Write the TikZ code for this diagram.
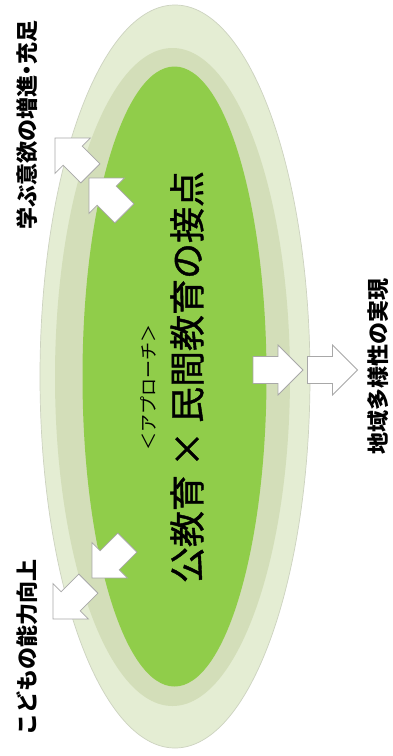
\documentclass[tikz,border=0pt]{standalone}
\usepackage{fontspec}
\newfontfamily\jp{Noto Sans CJK JP}
\newfontfamily\jpmed{Noto Sans CJK JP}[FakeBold=1.2]
\definecolor{outerc}{HTML}{E4EDD3}
\definecolor{ringc}{HTML}{D3DEB9}
\definecolor{innerc}{HTML}{90CD4A}
\definecolor{edgec}{HTML}{CDD3C0}
\definecolor{arrowedge}{HTML}{A8A8A8}
\tikzset{
  arrowstyle/.style={fill=white, draw=arrowedge, line width=0.8pt, line join=miter},
  blockarrow/.pic={\draw[arrowstyle] (-25,-13.5) -- (0,-13.5) -- (0,-25) -- (25,0) -- (0,25) -- (0,13.5) -- (-25,13.5) -- cycle;},
  label/.style={font=\jp\bfseries\fontsize{22}{24}\selectfont, rotate=90, inner sep=0pt, text=black},
  maintext/.style={font=\jpmed\fontsize{36}{40}\selectfont, rotate=90, inner sep=0pt, text=black},
  subtext/.style={font=\jp\fontsize{18}{20}\selectfont, rotate=90, inner sep=0pt, text=black}
}
\begin{document}
\begin{tikzpicture}[x=1pt,y=-1pt]
\useasboundingbox (0,0) rectangle (392,756);
\fill[white] (0,0) rectangle (392,756);
% ellipses
\filldraw[fill=outerc, draw=edgec, line width=0.7pt] (175,376.5) ellipse [x radius=135, y radius=371.5];
\fill[ringc] (172.5,377) ellipse [x radius=117.5, y radius=329];
\fill[innerc] (174.5,376.5) ellipse [x radius=92, y radius=310];
% texts
\node[maintext] (main) at (187,377) {公教育 × 民間教育の接点};
\node[subtext] (sub) at (148,387) {＜アプローチ＞};
\node[label] (l1) at (27,125) {学ぶ意欲の増進\kern-0.25em・\kern-0.25em充足};
\node[label] (l2) at (27,647) {こどもの能力向上};
\node[label] (l3) at (378,366) {地域多様性の実現};
% arrows
\pic[rotate=135] at (72.7,155.7) {blockarrow};
\pic[rotate=135] at (106.7,195.7) {blockarrow};
\pic[rotate=225] at (70.7,601.3) {blockarrow};
\pic[rotate=225] at (109.7,560.3) {blockarrow};
\pic at (278,370) {blockarrow};
\pic at (332.5,370) {blockarrow};
\end{tikzpicture}
\end{document}
